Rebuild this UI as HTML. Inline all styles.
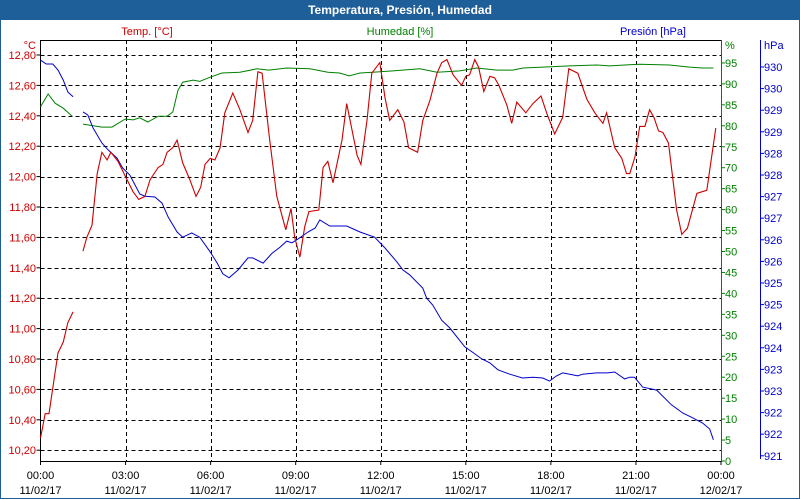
<!DOCTYPE html>
<html><head><meta charset="utf-8">
<style>
html,body{margin:0;padding:0;background:#fff;}
#wrap{position:relative;width:798px;height:498px;border:1px solid #1f5f99;border-top:none;overflow:hidden;font-family:"Liberation Sans",sans-serif;}
#titlebar{position:absolute;left:0;top:0;width:798px;height:20px;background:#1f5f99;color:#fff;font-weight:bold;font-size:12px;text-align:center;line-height:20px;}
svg{position:absolute;left:-1px;top:0;}
</style></head><body>
<div id="wrap">
<div id="titlebar">Temperatura, Presión, Humedad</div>
<svg id="chart" width="800" height="500" font-family="Liberation Sans, sans-serif" font-size="11"></svg>
</div>
<script>
// ---- data (time in minutes since 11/02/17 00:00) ----
const tempTimes=[0,10,18,26,37,48,58,69,null,90,98,109,120,130,141,149,164,183,196,208,221,232,249,259,268,280,289,301,316,329,339,348,359,369,380,390,407,422,439,449,460,469,485,500,519,530,538,549,559,568,589,598,608,619,638,648,670,678,691,701,718,729,739,756,769,779,798,809,824,839,849,860,873,891,900,908,919,927,938,951,961,970,987,997,1008,1027,1042,1059,1071,1088,1105,1118,1137,1156,1173,1190,1198,1215,1230,1240,1247,1258,1268,1279,1289,1298,1308,1317,1329,1346,1357,1369,1389,1410,1429];
const tempValues=[10.28,10.44,10.44,10.61,10.84,10.91,11.04,11.11,null,11.51,11.60,11.68,12.02,12.16,12.11,12.16,12.10,11.98,11.90,11.85,11.87,11.98,12.06,12.08,12.16,12.19,12.24,12.09,11.98,11.87,11.93,12.08,12.12,12.11,12.19,12.42,12.55,12.44,12.29,12.37,12.69,12.68,12.24,11.87,11.65,11.79,11.60,11.47,11.67,11.77,11.78,12.06,12.10,11.96,12.24,12.48,12.14,12.08,12.37,12.68,12.75,12.52,12.37,12.44,12.36,12.19,12.16,12.37,12.50,12.68,12.75,12.77,12.67,12.60,12.66,12.67,12.77,12.72,12.56,12.66,12.65,12.60,12.47,12.35,12.49,12.42,12.48,12.53,12.42,12.28,12.39,12.71,12.68,12.51,12.42,12.35,12.42,12.19,12.12,12.02,12.02,12.13,12.33,12.33,12.44,12.39,12.30,12.29,12.22,11.78,11.62,11.66,11.89,11.91,12.32];
const humTimes=[0,16,31,48,67,null,90,130,151,179,196,210,227,249,268,280,291,301,323,337,359,384,422,458,483,521,570,608,633,653,676,703,746,803,839,887,923,966,999,1021,1063,1120,1177,1204,1268,1331,1374,1401,1424];
const humValues=[84.5,87.6,85.4,84.2,82.3,null,80.4,79.7,79.7,81.6,81.4,81.9,80.9,82.3,82.3,83.3,88.5,90.4,90.9,90.6,91.6,92.6,92.8,93.6,93.3,93.8,93.6,92.8,92.6,91.9,92.6,92.8,93.1,93.6,92.8,93.1,93.8,93.3,93.3,93.8,94.0,94.3,94.5,94.3,94.7,94.5,94.0,93.8,93.8];
const presTimes=[0,12,26,37,48,58,69,null,90,100,111,130,143,162,174,189,200,210,221,242,257,270,289,301,320,337,359,374,386,399,418,439,449,471,490,507,521,532,545,566,581,591,612,648,676,707,729,754,767,781,809,817,830,849,866,898,914,934,951,968,993,1020,1042,1063,1077,1092,1105,1120,1137,1147,1177,1200,1215,1236,1247,1257,1274,1304,1335,1359,1380,1401,1416,1424];
const presValues=[930.46,930.37,930.37,930.23,930.0,929.72,929.61,null,929.26,929.19,928.89,928.54,928.38,928.19,927.96,927.80,927.57,927.36,927.31,927.29,927.15,926.83,926.48,926.36,926.46,926.36,926.02,925.76,925.51,925.42,925.60,925.88,925.88,925.76,925.99,926.13,926.27,926.23,926.32,926.48,926.57,926.76,926.62,926.62,926.48,926.36,926.11,925.79,925.60,925.49,925.18,924.95,924.79,924.44,924.26,923.82,923.70,923.54,923.45,923.29,923.19,923.10,923.12,923.10,923.03,923.15,923.22,923.19,923.15,923.19,923.22,923.22,923.24,923.08,923.12,923.12,922.89,922.82,922.48,922.29,922.18,922.06,921.92,921.67];
const tempTicks=[12.8,12.6,12.4,12.2,12.0,11.8,11.6,11.4,11.2,11.0,10.8,10.6,10.4,10.2];
const humTicks=[0,5,10,15,20,25,30,35,40,45,50,55,60,65,70,75,80,85,90,95];
const presTicks=[930.3,929.8,929.3,928.8,928.3,927.8,927.3,926.8,926.3,925.8,925.3,924.8,924.3,923.8,923.3,922.8,922.3,921.8,921.3];
const timeTicks=[0,180,360,540,720,900,1080,1260,1440];
const timeLabels=["00:00","03:00","06:00","09:00","12:00","15:00","18:00","21:00","00:00"];
const dateLabels=["11/02/17","11/02/17","11/02/17","11/02/17","11/02/17","11/02/17","11/02/17","11/02/17","12/02/17"];

// ---- axes ----
const L=40.5,R=721,T=40,B=461;
const xS=m=>L+(m/1440)*(R-L);
const yT=v=>55+(12.8-v)/0.2*30.4;
const yH=v=>B-v*4.19;
const yP=v=>67+(930.3-v)*43.2;
const RED="#cc0000",GRN="#008000",BLU="#0000cc";
const svg=document.getElementById('chart');
const NS="http://www.w3.org/2000/svg";
function mk(tag,attrs,parent){const e=document.createElementNS(NS,tag);for(const k in attrs)e.setAttribute(k,attrs[k]);(parent||svg).appendChild(e);return e;}

// grid
timeTicks.forEach((m,i)=>{if(i===0||i===timeTicks.length-1)return;
 const gx=Math.round(xS(m))+0.5;
 const g=mk('line',{x1:gx,x2:gx,y1:T,y2:B,stroke:'#000','stroke-dasharray':'4,3','shape-rendering':'crispEdges'});
 
 });
tempTicks.forEach(v=>{const gy=Math.round(yT(v))+0.5;
 const g=mk('line',{x1:L,x2:R,y1:gy,y2:gy,stroke:'#000','stroke-dasharray':'4,3','shape-rendering':'crispEdges'});
 
 });

// frame
const fr=mk('path',{d:`M${L} ${T+0.5}H${R}M${L} ${T}V${B+0.5}H${R}`,stroke:'#000',fill:'none','stroke-width':1});


const ga=mk('line',{x1:R+0.5,x2:R+0.5,y1:T,y2:B+1,stroke:GRN,'stroke-width':1});


const ba=mk('line',{x1:760.5,x2:760.5,y1:T,y2:B-2,stroke:BLU,'stroke-width':1});



function txt(x,y,s,color,anchor,name){const t=mk('text',{x:x,y:y,fill:color,'text-anchor':anchor||'start'});t.textContent=s;
 
 return t;}

// axis labels
tempTicks.forEach(v=>{txt(36,yT(v)+4,v.toFixed(2).replace('.',','),RED,'end','temp-tick-label');
 const k=mk('line',{x1:L-4,x2:L,y1:yT(v),y2:yT(v),stroke:'#000'});
 
 });
txt(36,49,'°C',RED,'end','temp-unit');
humTicks.forEach(v=>{txt(725,yH(v)+4,String(v),GRN,'start','humidity-tick-label');
 const k=mk('line',{x1:R,x2:R+4,y1:yH(v),y2:yH(v),stroke:GRN});
 
 });
txt(725,49,'%',GRN,'start','humidity-unit');
presTicks.forEach(v=>{txt(764,yP(v)+4,String(Math.round(v)),BLU,'start','pressure-tick-label');
 const k=mk('line',{x1:760,x2:764,y1:yP(v),y2:yP(v),stroke:BLU});
 
 });
txt(764,49,'hPa',BLU,'start','pressure-unit');
timeTicks.forEach((m,i)=>{txt(xS(m),479,timeLabels[i],'#000','middle','x-tick-time');
 txt(xS(m),494,dateLabels[i],'#000','middle','x-tick-date');
 const k=mk('line',{x1:xS(m),x2:xS(m),y1:B,y2:B+4,stroke:'#000'});
 
 });
txt(147,35,'Temp. [°C]',RED,'middle','temp-axis-title');
txt(400,35,'Humedad [%]',GRN,'middle','humidity-axis-title');
txt(686,35,'Presión [hPa]',BLU,'end','pressure-axis-title');

// series
function pathFrom(ts,vs,yf){let d='',pen=false;for(let i=0;i<ts.length;i++){if(ts[i]===null||vs[i]===null){pen=false;continue;}
 d+=(pen?'L':'M')+xS(ts[i]).toFixed(1)+' '+yf(vs[i]).toFixed(1);pen=true;}return d;}
const ph=mk('path',{d:pathFrom(humTimes,humValues,yH),stroke:GRN,fill:'none','stroke-width':1});


const pp=mk('path',{d:pathFrom(presTimes,presValues,yP),stroke:BLU,fill:'none','stroke-width':1});


const pt=mk('path',{d:pathFrom(tempTimes,tempValues,yT),stroke:RED,fill:'none','stroke-width':1.1});


</script>
</body></html>
